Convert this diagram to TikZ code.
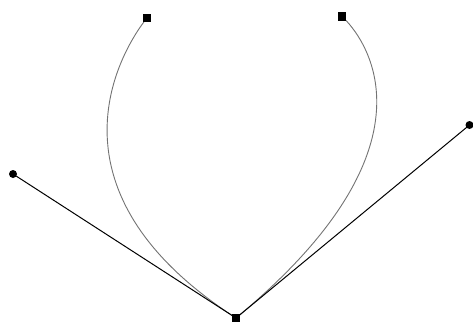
\documentclass[tikz,border=0pt]{standalone}
\begin{document}
\begin{tikzpicture}[x=1pt,y=-1pt,
  anchorpt/.style={draw=none,fill=black,rectangle,minimum size=8.5pt,inner sep=0pt},
  handlept/.style={draw=none,fill=black,circle,minimum size=8pt,inner sep=0pt},
  handleline/.style={black,line width=1pt},
  curveline/.style={black!55,line width=0.9pt}]
\useasboundingbox (0,0) rectangle (473,324);
\coordinate (bc) at (236,318);
\coordinate (lc) at (13,174);
\coordinate (rc) at (469.5,125);
\coordinate (tlc) at (147,18);
\coordinate (trc) at (342,16.5);
\draw[curveline] (bc) .. controls (lc) and (tlc) .. (tlc);
\draw[curveline] (bc) .. controls (rc) and (trc) .. (trc);
\draw[handleline] (bc) -- (lc);
\draw[handleline] (bc) -- (rc);
\node[anchorpt] (b) at (bc) {};
\node[anchorpt] (tl) at (tlc) {};
\node[anchorpt] (tr) at (trc) {};
\node[handlept] (l) at (lc) {};
\node[handlept] (r) at (rc) {};
\end{tikzpicture}
\end{document}
